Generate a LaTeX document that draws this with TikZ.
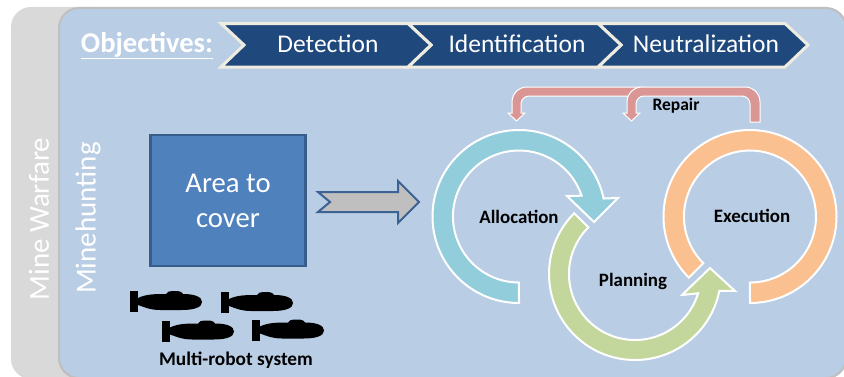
\documentclass[tikz,border=0pt]{standalone}
\usepackage{fontspec}
\setmainfont{Carlito}
\definecolor{graypanel}{HTML}{D9D9D9}
\definecolor{panelblue}{HTML}{B9CDE5}
\definecolor{panelline}{HTML}{BFBFBF}
\definecolor{navy}{HTML}{1F497D}
\definecolor{cream}{HTML}{EEECE1}
\definecolor{areablue}{HTML}{4F81BD}
\definecolor{arealine}{HTML}{385D8A}
\definecolor{ringblue}{HTML}{92CDDC}
\definecolor{ringgreen}{HTML}{C3D69B}
\definecolor{ringorange}{HTML}{FAC090}
\definecolor{repairpink}{HTML}{D99694}
\tikzset{
  x=1pt,y=1pt,
  chevronbox/.style={fill=navy,draw=cream,line width=3pt,miter limit=10},
  chevrontext/.style={text=white,font=\fontsize{25.5}{25}\selectfont,anchor=base,inner sep=0pt},
  ring/.style={draw=white,line width=2pt,line join=miter},
  cyclelabel/.style={text=black,font=\fontsize{18.9}{20}\selectfont\bfseries,inner sep=0pt},
  repairarrow/.style={fill=repairpink,draw=white,line width=1pt},
  sidelabel/.style={text=white,font=\fontsize{29}{29}\selectfont,rotate=90,inner sep=0pt},
  pics/sub/.style={code={
    \fill[black] (0,0) rectangle (8,-21);
    \fill[black] (8,-7) .. controls (16,-3) and (26,-3) .. (36,-3)
      .. controls (37,-1) and (39,0) .. (42,0) -- (48,0)
      .. controls (51,0) and (52,-2) .. (53,-3)
      .. controls (65,-3) and (72,-6) .. (72,-11)
      .. controls (72,-16) and (65,-19) .. (52,-19) -- (30,-19)
      .. controls (20,-19) and (14,-16) .. (8,-14) -- cycle;
  }}
}
\begin{document}
\begin{tikzpicture}
\useasboundingbox (0,0) rectangle (844,376);
\clip (0,0) rectangle (844,376);
\fill[white] (0,0) rectangle (844,376);
% panels
\fill[graypanel,rounded corners=20pt] (11,-3) rectangle (120,369);
\draw[panelline,fill=panelblue,line width=2pt,rounded corners=20pt] (59,-2) rectangle (846,368);
% side labels
\node[sidelabel] (warfare) at (39,157) {Mine Warfare};
\node[sidelabel] (hunting) at (88,158) {Minehunting};
% objectives
\node[text=white,font=\fontsize{28.6}{28}\selectfont\bfseries,anchor=base,inner sep=0pt] (objectives) at (147,324) {\underline{Objectives:}};
\draw[chevronbox] (598,352.5) -- (785,352.5) -- (808,331) -- (785,309) -- (598,309) -- (621,331) -- cycle;
\draw[chevronbox] (408,352.5) -- (598,352.5) -- (621,331) -- (598,309) -- (408,309) -- (431,331) -- cycle;
\draw[chevronbox] (221,352.5) -- (408,352.5) -- (431,331) -- (408,309) -- (221,309) -- (244,331) -- cycle;
\node[chevrontext] (detection) at (328,324) {Detection};
\node[chevrontext] (identification) at (517,324) {Identification};
\node[chevrontext] (neutralization) at (706,324) {Neutralization};
% area
\node[draw=arealine,fill=areablue,line width=2.5pt,minimum width=155pt,minimum height=131pt,inner sep=0pt,
  text=white,align=center,font=\fontsize{28.7}{35}\selectfont] (area) at (228,175.5) {Area to\\cover};
% notched arrow
\draw[draw=arealine!85!areablue,fill=panelline,line width=2pt,miter limit=10]
  (318,184) -- (398,184) -- (398,195) -- (419,174) -- (398,153) -- (398,164) -- (318,164) -- (330,174) -- cycle;
% submarines
\pic at (130,85) {sub};
\pic at (221,84) {sub};
\pic at (162,55.5) {sub};
\pic at (252,56.5) {sub};
\node[font=\fontsize{19.3}{20}\selectfont\bfseries,text=black,inner sep=0pt] (robots) at (236,16) {Multi-robot system};
% rings
\draw[ring,fill=ringblue] (519,73) arc[start angle=270,end angle=12,radius=86.5]
  -- (618,178) -- (594,154) -- (567,180) -- (581.6,180.3)
  arc[start angle=18.4,end angle=270,radius=66] -- cycle;
\draw[ring,fill=ringorange] (750,73) arc[start angle=270,end angle=585,radius=86.5]
  -- (703.3,112.8) arc[start angle=225,end angle=-90,radius=66] -- cycle;
\draw[ring,fill=ringgreen] (574.2,162.8) arc[start angle=135,end angle=348.7,radius=86]
  -- (735,85) -- (710,108) -- (682,81) -- (698.1,82.7)
  arc[start angle=-17,end angle=-225,radius=66] -- cycle;
\node[cyclelabel] (allocation) at (519,159) {Allocation};
\node[cyclelabel] (planning) at (633,95) {Planning};
\node[cyclelabel] (execution) at (752,160) {Execution};
% repair arrows
\draw[repairarrow] (642,289) -- (527,289) arc[start angle=90,end angle=180,radius=15]
  -- (512,263) -- (508,263) -- (516.5,255) -- (525,263) -- (521,263) -- (521,272)
  arc[start angle=180,end angle=90,radius=8] -- (642,280) -- cycle;
\draw[repairarrow] (760,254) -- (760,274) arc[start angle=0,end angle=90,radius=15]
  -- (642,289) arc[start angle=90,end angle=180,radius=15]
  -- (627,263) -- (623,263) -- (631.5,255) -- (640,263) -- (636,263) -- (636,272)
  arc[start angle=180,end angle=90,radius=8] -- (742,280)
  arc[start angle=90,end angle=0,radius=8] -- (750,254) -- cycle;
\node[font=\fontsize{17.5}{18}\selectfont\bfseries,text=black,inner sep=0pt] (repair) at (676,270) {Repair};
\end{tikzpicture}
\end{document}
